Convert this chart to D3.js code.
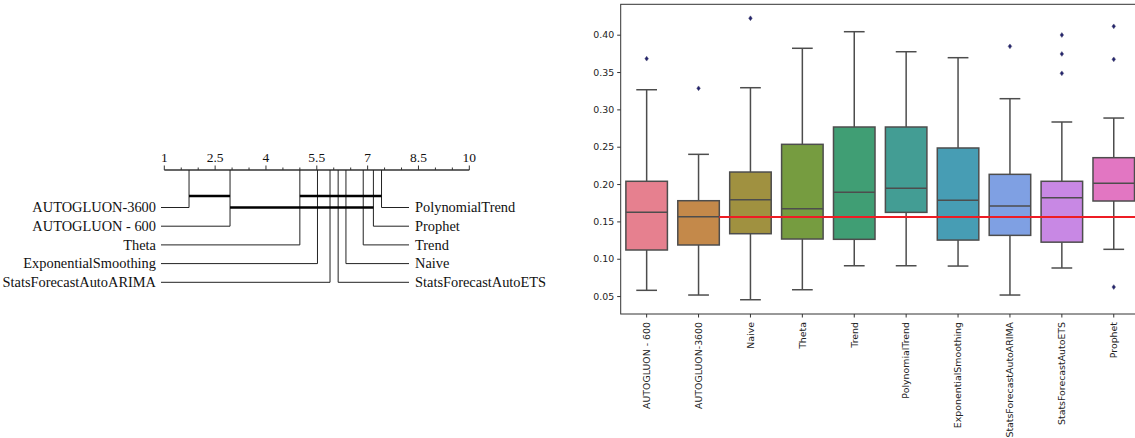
<!DOCTYPE html>
<html>
<head>
<meta charset="utf-8">
<script src="https://cdn.jsdelivr.net/npm/d3@7"></script>
<style>
  body { margin: 0; background: #fff; }
  svg { display: block; }
</style>
</head>
<body>
<svg id="chart" width="1135" height="438"></svg>
<script>
// ---- critical difference diagram data ----
var cdLeftNames = ["AUTOGLUON-3600", "AUTOGLUON - 600", "Theta", "ExponentialSmoothing", "StatsForecastAutoARIMA"];
var cdLeftRanks = [1.73, 2.94, 5.00, 5.52, 5.89];
var cdRightNames = ["PolynomialTrend", "Prophet", "Trend", "Naive", "StatsForecastAutoETS"];
var cdRightRanks = [7.41, 7.17, 6.87, 6.36, 6.13];
var cdTickLabels = [1, 2.5, 4, 5.5, 7, 8.5, 10];
// groups of methods not significantly different: [from rank, to rank, level]
var cdCliqueFrom = [1.73, 5.00, 2.94];
var cdCliqueTo = [2.94, 7.41, 7.17];
var cdCliqueLevel = [0, 0, 1];

// ---- boxplot data ----
var boxNames = ["AUTOGLUON - 600", "AUTOGLUON-3600", "Naive", "Theta", "Trend", "PolynomialTrend",
    "ExponentialSmoothing", "StatsForecastAutoARIMA", "StatsForecastAutoETS", "Prophet"];
var boxColors = ["#e6808f", "#c4894a", "#a09140", "#769c40", "#409e74", "#439d94",
    "#479db4", "#7fa0e3", "#c888e4", "#e276c2"];
var whiskerLow = [0.0577, 0.0514, 0.0451, 0.0585, 0.0906, 0.0906, 0.0902, 0.0514, 0.0876, 0.1126];
var q1 = [0.1117, 0.1184, 0.1335, 0.1264, 0.1260, 0.1621, 0.1250, 0.1313, 0.1222, 0.1773];
var medians = [0.1621, 0.1563, 0.1790, 0.1670, 0.1889, 0.1943, 0.1782, 0.1706, 0.1817, 0.2010];
var q3 = [0.2037, 0.1777, 0.2161, 0.2532, 0.2764, 0.2764, 0.2483, 0.2130, 0.2037, 0.2353];
var whiskerHigh = [0.3263, 0.2398, 0.3290, 0.3818, 0.4040, 0.3772, 0.3692, 0.3143, 0.2831, 0.2884];
var outliers = [[0.3679], [0.3282], [0.4220], [], [], [], [], [0.3844], [0.3996, 0.3742, 0.3483], [0.4112, 0.3670, 0.0621]];
var yTicks = [0.05, 0.10, 0.15, 0.20, 0.25, 0.30, 0.35, 0.40];
var referenceValue = 0.1559;

var svg = d3.select("#chart");

//---------------- CD diagram ----------------
var cd = svg.append("g").attr("font-family", "'Liberation Serif', serif");
var cdAxisY = 170;
var rowY0 = 207.5, rowStep = 18.7;
var cliqueY = [196, 207.5];

var rankScale = d3.scaleLinear().domain([1, 10]).range([164.3, 469.3]);

cd.append("line")
    .attr("x1", rankScale(1)).attr("x2", rankScale(10))
    .attr("y1", cdAxisY).attr("y2", cdAxisY)
    .attr("stroke", "#333").attr("stroke-width", 1.3);

d3.range(1, 10.01, 0.5).forEach(function(t) {
    var major = cdTickLabels.indexOf(t) >= 0;
    cd.append("line")
        .attr("x1", rankScale(t)).attr("x2", rankScale(t))
        .attr("y1", cdAxisY).attr("y2", cdAxisY - (major ? 4.5 : 2.5))
        .attr("stroke", "#333").attr("stroke-width", 1);
});

cd.selectAll(".cdtick")
    .data(cdTickLabels)
    .join("text")
    .attr("class", "cdtick")
    .attr("x", d => rankScale(d))
    .attr("y", cdAxisY - 8)
    .attr("text-anchor", "middle")
    .attr("font-size", 13.5)
    .attr("fill", "#111")
    .text(d => d);

// left side methods
cdLeftNames.forEach(function(name, i) {
    var y = rowY0 + i * rowStep;
    var x = rankScale(cdLeftRanks[i]);
    cd.append("path")
        .attr("d", "M" + x + "," + cdAxisY + "V" + y + "H161")
        .attr("fill", "none").attr("stroke", "#222").attr("stroke-width", 1);
    cd.append("text")
        .attr("x", 156).attr("y", y)
        .attr("dy", "0.33em")
        .attr("text-anchor", "end")
        .attr("font-size", 14.4)
        .attr("fill", "#111")
        .text(name);
});

// right side methods
cdRightNames.forEach(function(name, i) {
    var y = rowY0 + i * rowStep;
    var x = rankScale(cdRightRanks[i]);
    cd.append("path")
        .attr("d", "M" + x + "," + cdAxisY + "V" + y + "H409")
        .attr("fill", "none").attr("stroke", "#222").attr("stroke-width", 1);
    cd.append("text")
        .attr("x", 415).attr("y", y)
        .attr("dy", "0.33em")
        .attr("text-anchor", "start")
        .attr("font-size", 14.4)
        .attr("fill", "#111")
        .text(name);
});

// clique bars
cdCliqueFrom.forEach(function(from, i) {
    cd.append("line")
        .attr("x1", rankScale(from)).attr("x2", rankScale(cdCliqueTo[i]))
        .attr("y1", cliqueY[cdCliqueLevel[i]]).attr("y2", cliqueY[cdCliqueLevel[i]])
        .attr("stroke", "#000").attr("stroke-width", 2.6);
});

//---------------- Boxplot ----------------
var plotLeft = 620.7, plotTop = 4.3, plotBottom = 314;
var step = 51.9;
var plotRight = plotLeft + step * boxNames.length;

var x = d3.scaleBand().domain(boxNames).range([plotLeft, plotRight]);
var y = d3.scaleLinear().domain([0.0260, 0.4407]).range([plotBottom, plotTop]);
var boxW = x.bandwidth() * 0.8;
var capW = boxW * 0.5;
var edge = "#4d4d4d";

var bp = svg.append("g").attr("font-family", "'DejaVu Sans', sans-serif");

// y axis
var yAxis = bp.append("g")
    .attr("transform", "translate(" + plotLeft + ",0)")
    .call(d3.axisLeft(y).tickValues(yTicks).tickFormat(d3.format(".2f")).tickSize(3.5).tickPadding(3));
yAxis.select(".domain").remove();
yAxis.selectAll("line").attr("stroke", "#333");
yAxis.selectAll("text").attr("font-size", 9.4).attr("fill", "#222").attr("font-family", "'DejaVu Sans', sans-serif");

// x axis
var xAxis = bp.append("g")
    .attr("transform", "translate(0," + plotBottom + ")")
    .call(d3.axisBottom(x).tickSize(3.5).tickPadding(3));
xAxis.select(".domain").remove();
xAxis.selectAll("line").attr("stroke", "#333");
xAxis.selectAll("text")
    .attr("font-size", 9.4).attr("fill", "#222")
    .attr("font-family", "'DejaVu Sans', sans-serif")
    .attr("transform", "rotate(-90)")
    .attr("text-anchor", "end")
    .attr("x", -8).attr("y", 0).attr("dy", "0.35em");

var boxes = bp.append("g");
boxNames.forEach(function(name, i) {
    var cx = x(name) + x.bandwidth() / 2;
    var g = boxes.append("g");
    // whiskers
    g.append("line").attr("x1", cx).attr("x2", cx)
        .attr("y1", y(q3[i])).attr("y2", y(whiskerHigh[i]))
        .attr("stroke", edge).attr("stroke-width", 1.5);
    g.append("line").attr("x1", cx).attr("x2", cx)
        .attr("y1", y(q1[i])).attr("y2", y(whiskerLow[i]))
        .attr("stroke", edge).attr("stroke-width", 1.5);
    // caps
    [whiskerHigh[i], whiskerLow[i]].forEach(function(v) {
        g.append("line").attr("x1", cx - capW / 2).attr("x2", cx + capW / 2)
            .attr("y1", y(v)).attr("y2", y(v))
            .attr("stroke", edge).attr("stroke-width", 1.5);
    });
    // box
    g.append("rect")
        .attr("x", cx - boxW / 2).attr("width", boxW)
        .attr("y", y(q3[i])).attr("height", y(q1[i]) - y(q3[i]))
        .attr("fill", boxColors[i])
        .attr("stroke", edge).attr("stroke-width", 1.5);
    // median
    g.append("line").attr("x1", cx - boxW / 2).attr("x2", cx + boxW / 2)
        .attr("y1", y(medians[i])).attr("y2", y(medians[i]))
        .attr("stroke", edge).attr("stroke-width", 1.5);
    // outliers (thin diamonds)
    g.selectAll(".flier")
        .data(outliers[i])
        .join("path")
        .attr("class", "flier")
        .attr("d", function(v) {
            var py = y(v);
            return "M" + cx + "," + (py - 2.4) + "L" + (cx + 1.8) + "," + py + "L" + cx + "," + (py + 2.4) + "L" + (cx - 1.8) + "," + py + "Z";
        })
        .attr("fill", "#23236e")
        .attr("stroke", "#555577").attr("stroke-width", 0.5);
});

// reference line, starts at the edge of the AUTOGLUON-3600 box
var refStart = x(boxNames[1]) + x.bandwidth() / 2 + boxW / 2;
bp.append("line")
    .attr("x1", refStart).attr("x2", plotRight)
    .attr("y1", y(referenceValue)).attr("y2", y(referenceValue))
    .attr("stroke", "#ee1c24").attr("stroke-width", 2);

// frame
bp.append("rect")
    .attr("x", plotLeft).attr("y", plotTop)
    .attr("width", plotRight - plotLeft).attr("height", plotBottom - plotTop)
    .attr("fill", "none").attr("stroke", "#333").attr("stroke-width", 1);
</script>
</body>
</html>
